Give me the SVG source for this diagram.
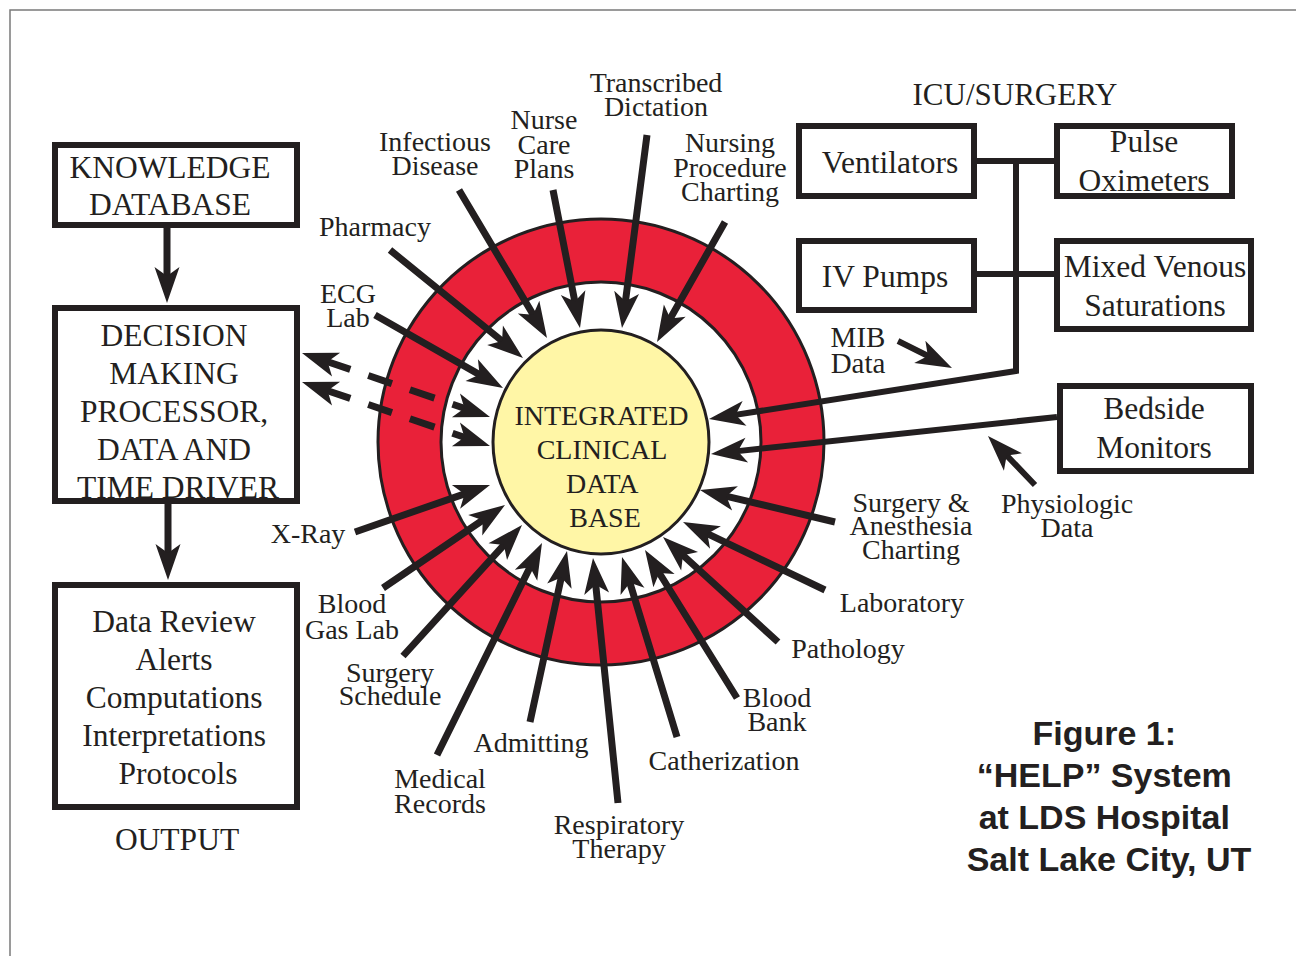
<svg xmlns="http://www.w3.org/2000/svg" width="1296" height="956" viewBox="0 0 1296 956">
  <style>
    .t{font-family:"Liberation Serif","Times New Roman",serif;fill:#231f20;text-anchor:middle}
    .lbl{font-size:28px}
    .bx{font-size:31.5px}
    .cap{font-family:"Liberation Sans",Arial,sans-serif;font-weight:bold;font-size:34px;fill:#231f20;text-anchor:middle}
    .box{fill:#fff;stroke:#231f20;stroke-width:6}
    .spoke{fill:none;stroke:#231f20;stroke-width:7;stroke-dasharray:0 20 4000;marker-start:url(#head)}
    .wire{fill:none;stroke:#231f20;stroke-width:6}
    .feed{fill:none;stroke:#231f20;stroke-width:6;stroke-dasharray:0 20 4000;marker-start:url(#head)}
    .dash{fill:none;stroke:#231f20;stroke-width:7;stroke-dasharray:0 20 31 19 25 19 26 19 21 100;marker-start:url(#head);marker-end:url(#head)}
  </style>
  <defs>
    <marker id="head" markerUnits="userSpaceOnUse" viewBox="-40 -15 42 30" refX="0" refY="0" markerWidth="42" markerHeight="30" orient="auto-start-reverse" overflow="visible">
      <path d="M0,0 L-36,-12.5 L-27,0 L-36,12.5 Z" fill="#231f20"/>
    </marker>
  </defs>

  <rect width="1296" height="956" fill="#fff"/>
  <rect x="10" y="10" width="1300" height="960" fill="none" stroke="#7a7a7a" stroke-width="1.5"/>

  <!-- central database with red ring -->
  <g id="database">
    <circle cx="601" cy="442" r="223" fill="#e92139" stroke="#231f20" stroke-width="3"/>
    <circle cx="601" cy="442" r="160" fill="#fff" stroke="#231f20" stroke-width="3"/>
    <ellipse cx="601" cy="442" rx="108" ry="112" fill="#fff6a6" stroke="#231f20" stroke-width="3"/>
    <text class="t lbl">
      <tspan x="605" y="425">INTEGRATED</tspan>
      <tspan x="605" y="459">CLINICAL</tspan>
      <tspan x="605" y="493">DATA</tspan>
      <tspan x="605" y="527">BASE</tspan>
    </text>
  </g>

  <!-- connectors: each path runs from arrow tip back to its source -->
  <g id="connectors">
    <path class="spoke" d="M547,338 L459,190"/>
    <path class="spoke" d="M580,328 L553,190"/>
    <path class="spoke" d="M622,328 L647,135"/>
    <path class="spoke" d="M657,342 L725,222"/>
    <path class="spoke" d="M523,358 L390,250"/>
    <path class="spoke" d="M503,388 L375,315"/>
    <path class="spoke" d="M490,485 L355,532"/>
    <path class="spoke" d="M505,505 L383,588"/>
    <path class="spoke" d="M522,525 L403,656"/>
    <path class="spoke" d="M542,543 L437,755"/>
    <path class="spoke" d="M567,551 L530,722"/>
    <path class="spoke" d="M593,558 L618,803"/>
    <path class="spoke" d="M622,557 L677,737"/>
    <path class="spoke" d="M645,550 L737,698"/>
    <path class="spoke" d="M663,537 L778,642"/>
    <path class="spoke" d="M683,522 L825,590"/>
    <path class="spoke" d="M700,490 L835,522"/>

    <!-- two-way links between processor and database -->
    <path class="dash" d="M302,353 L490,417"/>
    <path class="dash" d="M302,382 L490,446"/>

    <!-- ICU/SURGERY bus -->
    <path class="wire" d="M974,161 H1055"/>
    <path class="wire" d="M974,274 H1055"/>
    <path class="feed" style="stroke-linejoin:miter" d="M709,419 L1016,371 L1016,158"/>
    <path class="feed" d="M711,454 L1057,417"/>
    <path class="feed" d="M952,368 L898,341"/>
    <path class="feed" d="M988,436 L1035,485"/>

    <!-- left column flow -->
    <path class="spoke" d="M167,303 L167,228"/>
    <path class="spoke" d="M168,580 L168,504"/>
  </g>

  <!-- left column -->
  <g id="knowledge">
    <rect class="box" x="55" y="145" width="242" height="80"/>
    <text class="t bx"><tspan x="170" y="178">KNOWLEDGE</tspan><tspan x="170" y="215">DATABASE</tspan></text>
  </g>
  <g id="processor">
    <rect class="box" x="55" y="308" width="242" height="193"/>
    <text class="t bx">
      <tspan x="178" y="346">DECISION</tspan>
      <tspan x="178" y="384">MAKING</tspan>
      <tspan x="178" y="422">PROCESSOR,</tspan>
      <tspan x="178" y="460">DATA AND</tspan>
      <tspan x="178" y="498">TIME DRIVER</tspan>
    </text>
  </g>
  <g id="output">
    <rect class="box" x="55" y="585" width="242" height="222"/>
    <text class="t bx">
      <tspan x="178" y="632">Data Review</tspan>
      <tspan x="178" y="670">Alerts</tspan>
      <tspan x="178" y="708">Computations</tspan>
      <tspan x="178" y="746">Interpretations</tspan>
      <tspan x="178" y="784">Protocols</tspan>
    </text>
    <text class="t bx" x="177" y="850">OUTPUT</text>
  </g>

  <!-- ICU/SURGERY devices -->
  <g id="icu-title"><text class="t" style="font-size:31px" x="1015" y="105">ICU/SURGERY</text></g>
  <g id="ventilators">
    <rect class="box" x="799" y="126" width="175" height="70"/>
    <text class="t bx" x="890" y="173">Ventilators</text>
  </g>
  <g id="pulse-oximeters">
    <rect class="box" x="1057" y="126" width="175" height="70"/>
    <text class="t bx"><tspan x="1144" y="152">Pulse</tspan><tspan x="1144" y="191">Oximeters</tspan></text>
  </g>
  <g id="iv-pumps">
    <rect class="box" x="799" y="241" width="175" height="69"/>
    <text class="t bx" x="885" y="287">IV Pumps</text>
  </g>
  <g id="mixed-venous">
    <rect class="box" x="1057" y="241" width="194" height="88"/>
    <text class="t bx"><tspan x="1155" y="277">Mixed Venous</tspan><tspan x="1155" y="316">Saturations</tspan></text>
  </g>
  <g id="bedside-monitors">
    <rect class="box" x="1060" y="386" width="191" height="85"/>
    <text class="t bx"><tspan x="1154" y="419">Bedside</tspan><tspan x="1154" y="458">Monitors</tspan></text>
  </g>
  <g id="mib-data"><text class="t" style="font-size:29px"><tspan x="858" y="347">MIB</tspan><tspan x="858" y="373">Data</tspan></text></g>
  <g id="physiologic-data"><text class="t lbl"><tspan x="1067" y="513">Physiologic</tspan><tspan x="1067" y="537">Data</tspan></text></g>

  <!-- data sources around the ring -->
  <g id="transcribed-dictation"><text class="t lbl"><tspan x="656" y="92">Transcribed</tspan><tspan x="656" y="116">Dictation</tspan></text></g>
  <g id="nurse-care-plans"><text class="t lbl"><tspan x="544" y="129">Nurse</tspan><tspan x="544" y="154">Care</tspan><tspan x="544" y="178">Plans</tspan></text></g>
  <g id="infectious-disease"><text class="t lbl"><tspan x="435" y="151">Infectious</tspan><tspan x="435" y="175">Disease</tspan></text></g>
  <g id="nursing-procedure"><text class="t lbl"><tspan x="730" y="152">Nursing</tspan><tspan x="730" y="177">Procedure</tspan><tspan x="730" y="201">Charting</tspan></text></g>
  <g id="pharmacy"><text class="t lbl" x="375" y="236">Pharmacy</text></g>
  <g id="ecg-lab"><text class="t lbl"><tspan x="348" y="303">ECG</tspan><tspan x="348" y="327">Lab</tspan></text></g>
  <g id="x-ray"><text class="t lbl" x="308" y="543">X-Ray</text></g>
  <g id="blood-gas-lab"><text class="t lbl"><tspan x="352" y="613">Blood</tspan><tspan x="352" y="639">Gas Lab</tspan></text></g>
  <g id="surgery-schedule"><text class="t lbl"><tspan x="390" y="682">Surgery</tspan><tspan x="390" y="705">Schedule</tspan></text></g>
  <g id="medical-records"><text class="t lbl"><tspan x="440" y="788">Medical</tspan><tspan x="440" y="813">Records</tspan></text></g>
  <g id="admitting"><text class="t lbl" x="531" y="752">Admitting</text></g>
  <g id="respiratory-therapy"><text class="t lbl"><tspan x="619" y="834">Respiratory</tspan><tspan x="619" y="858">Therapy</tspan></text></g>
  <g id="catherization"><text class="t lbl" x="724" y="770">Catherization</text></g>
  <g id="blood-bank"><text class="t lbl"><tspan x="777" y="707">Blood</tspan><tspan x="777" y="731">Bank</tspan></text></g>
  <g id="pathology"><text class="t lbl" x="848" y="658">Pathology</text></g>
  <g id="laboratory"><text class="t lbl" x="902" y="612">Laboratory</text></g>
  <g id="surgery-anesthesia"><text class="t lbl"><tspan x="911" y="512">Surgery &amp;</tspan><tspan x="911" y="535">Anesthesia</tspan><tspan x="911" y="559">Charting</tspan></text></g>

  <!-- caption -->
  <g id="caption">
    <text class="cap">
      <tspan x="1109" y="745">Figure 1:</tspan>
      <tspan x="1109" y="787">“HELP” System</tspan>
      <tspan x="1109" y="829">at LDS Hospital</tspan>
      <tspan x="1109" y="871">Salt Lake City, UT</tspan>
    </text>
  </g>
</svg>
